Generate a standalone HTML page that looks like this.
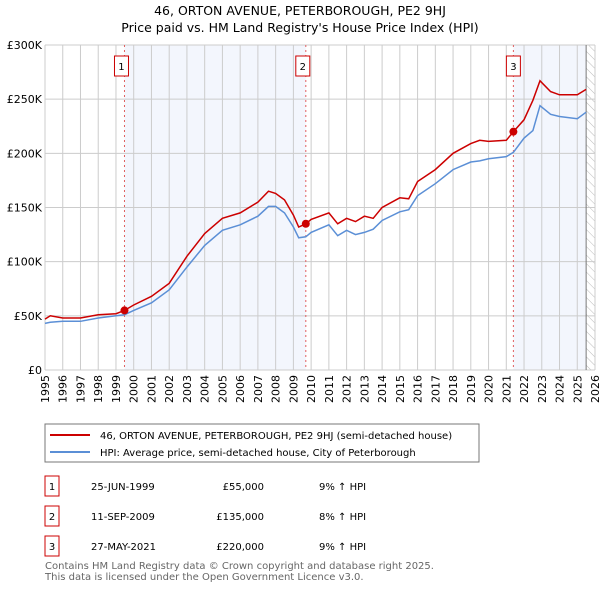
<!DOCTYPE html>
<html><head><meta charset="utf-8"><style>
body{margin:0;background:#fff;font-family:"DejaVu Sans","Liberation Sans",sans-serif;}
svg text{font-family:"DejaVu Sans","Liberation Sans",sans-serif;}
</style></head><body>
<svg id="c" width="600" height="590" viewBox="0 0 600 590" xmlns="http://www.w3.org/2000/svg">
<text x="300" y="15" text-anchor="middle" font-size="12.5">46, ORTON AVENUE, PETERBOROUGH, PE2 9HJ</text>
<text x="300" y="32" text-anchor="middle" font-size="12.5">Price paid vs. HM Land Registry's House Price Index (HPI)</text>
<defs><pattern id="hatch" width="6" height="6" patternUnits="userSpaceOnUse" patternTransform="rotate(-45)"><line x1="0" y1="0" x2="0" y2="6" stroke="#bbb" stroke-width="1"/></pattern></defs>
<g id="bg"></g><g id="grid"></g><g id="marks"></g><g id="axes"></g>
<rect x="45" y="424" width="434" height="38" fill="#fff" stroke="#777"/>
<line x1="50" y1="435" x2="90" y2="435" stroke="#cc0000" stroke-width="2"/>
<text x="100" y="439" font-size="10">46, ORTON AVENUE, PETERBOROUGH, PE2 9HJ (semi-detached house)</text>
<line x1="50" y1="452" x2="90" y2="452" stroke="#5b8fd6" stroke-width="2"/>
<text x="100" y="456" font-size="10">HPI: Average price, semi-detached house, City of Peterborough</text>
<g font-size="10">
<rect x="45" y="476" width="14" height="20" fill="#fff" stroke="#cc0000"/><text x="52" y="490" text-anchor="middle">1</text>
<text x="91" y="490">25-JUN-1999</text><text x="264" y="490" text-anchor="end">£55,000</text><text x="319" y="490">9% ↑ HPI</text>
<rect x="45" y="506" width="14" height="20" fill="#fff" stroke="#cc0000"/><text x="52" y="520" text-anchor="middle">2</text>
<text x="91" y="520">11-SEP-2009</text><text x="264" y="520" text-anchor="end">£135,000</text><text x="319" y="520">8% ↑ HPI</text>
<rect x="45" y="536" width="14" height="20" fill="#fff" stroke="#cc0000"/><text x="52" y="550" text-anchor="middle">3</text>
<text x="91" y="550">27-MAY-2021</text><text x="264" y="550" text-anchor="end">£220,000</text><text x="319" y="550">9% ↑ HPI</text>
</g>
<text x="45" y="569" font-size="10" fill="#666">Contains HM Land Registry data © Crown copyright and database right 2025.</text>
<text x="45" y="580" font-size="10" fill="#666">This data is licensed under the Open Government Licence v3.0.</text>
</svg>
<script>
const years=[1995,1995.3,1996,1997,1998,1999,1999.48,2000,2001,2002,2003,2004,2005,2006,2007,2007.6,2008,2008.5,2009,2009.3,2009.7,2010,2011,2011.5,2012,2012.5,2013,2013.5,2014,2015,2015.5,2016,2017,2018,2019,2019.5,2020,2021,2021.4,2022,2022.5,2022.9,2023.5,2024,2025,2025.5];
const hpiValues=[43,44,45,45,48,50,51,55,62,74,95,115,129,134,142,151,151,145,132,122,123,127,134,124,129,125,127,130,138,146,148,161,172,185,192,193,195,197,201,214,221,244,236,234,232,238];
const priceValues=[47,50,48,48,51,52,55,60,68,80,105,126,140,145,155,165,163,157,143,132,135,139,145,135,140,137,142,140,150,159,158,174,185,200,209,212,211,212,220,231,249,267,257,254,254,259];
const saleYears=[1999.48,2009.7,2021.4];
const saleValues=[55,135,220];
const yTicks=[0,50,100,150,200,250,300];
const yTickLabels=["£0","£50K","£100K","£150K","£200K","£250K","£300K"];
const x0=45,x1=595,yTop=45,yBot=370,ymin=1995,ymax=2026,dataEnd=2025.5;
const X=y=>x0+(y-ymin)/(ymax-ymin)*(x1-x0);
const Y=v=>yBot-v/300*(yBot-yTop);
const NS="http://www.w3.org/2000/svg";
function mk(p,t,a){const e=document.createElementNS(NS,t);for(const k in a)e.setAttribute(k,a[k]);p.appendChild(e);return e;}
const bg=document.getElementById('bg'),grid=document.getElementById('grid'),marks=document.getElementById('marks'),axes=document.getElementById('axes');
let r=mk(bg,'rect',{x:X(saleYears[0]),y:yTop,width:X(saleYears[1])-X(saleYears[0]),height:yBot-yTop,fill:'#f3f6fd'});


r=mk(bg,'rect',{x:X(saleYears[2]),y:yTop,width:X(dataEnd)-X(saleYears[2]),height:yBot-yTop,fill:'#f3f6fd'});


r=mk(bg,'rect',{x:X(dataEnd),y:yTop,width:x1-X(dataEnd),height:yBot-yTop,fill:'url(#hatch)'});


for(let yr=1995;yr<=2026;yr++){
 const l=mk(grid,'line',{x1:X(yr),x2:X(yr),y1:yTop,y2:yBot,stroke:'#ccc','stroke-width':1});
 
 
 const t=mk(axes,'text',{x:0,y:0,'font-size':11,'text-anchor':'end',transform:`translate(${X(yr)+4},${yBot+5}) rotate(-90)`});
 t.textContent=yr;
 
 
}
yTicks.forEach((v,i)=>{
 const l=mk(grid,'line',{x1:x0,x2:x1,y1:Y(v),y2:Y(v),stroke:'#ccc','stroke-width':1});
 
 
 const t=mk(axes,'text',{x:x0-3,y:Y(v)+4,'font-size':11,'text-anchor':'end'});
 t.textContent=yTickLabels[i];
 
 
});
let e=mk(grid,'line',{x1:X(dataEnd),x2:X(dataEnd),y1:yTop,y2:yBot,stroke:'#777','stroke-width':1});


saleYears.forEach((s,i)=>{
 const l=mk(grid,'line',{x1:X(s),x2:X(s),y1:yTop,y2:yBot,stroke:'#e06060','stroke-width':1,'stroke-dasharray':'2,3'});
 
 
 const b=mk(axes,'rect',{x:X(s)-7-(i==2?0:3),y:56,width:14,height:20,fill:'#fff',stroke:'#cc0000'});
 
 
 const t=mk(axes,'text',{x:X(s)-(i==2?0:3),y:70,'font-size':10,'text-anchor':'middle'});
 t.textContent=i+1;
 
 
});
const pts=a=>years.map((y,i)=>X(y).toFixed(1)+','+Y(a[i]).toFixed(1)).join(' ');
let p=mk(marks,'polyline',{points:pts(hpiValues),fill:'none',stroke:'#5b8fd6','stroke-width':1.5});


p=mk(marks,'polyline',{points:pts(priceValues),fill:'none',stroke:'#cc0000','stroke-width':1.5});


saleYears.forEach((s,i)=>{
 const c=mk(marks,'circle',{cx:X(s),cy:Y(saleValues[i]),r:4,fill:'#cc0000'});
 
 
});
</script>
</body></html>
